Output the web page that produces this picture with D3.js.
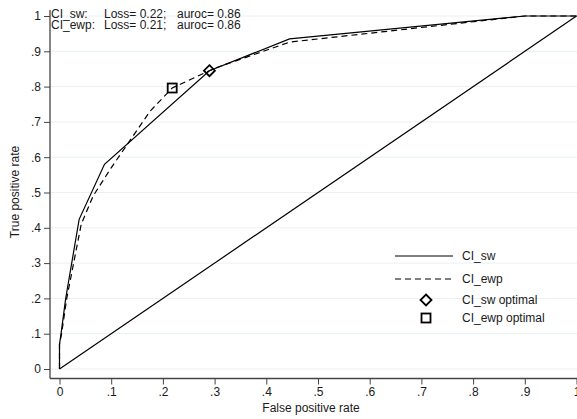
<!DOCTYPE html>
<html>
<head>
<meta charset="utf-8">
<script src="https://cdn.jsdelivr.net/npm/d3@7"></script>
<style>
  body { margin: 0; background: #fff; }
  text { font-family: "Liberation Sans", Arial, sans-serif; }
</style>
</head>
<body>
<div id="chart"></div>
<script>
// ROC points
const swFpr  = [0, 0, 0.003, 0.012, 0.038, 0.087, 0.29, 0.445, 0.9, 1];
const swTpr  = [0, 0.07, 0.10, 0.20, 0.424, 0.58, 0.845, 0.935, 1, 1];
const ewpFpr = [0, 0, 0.004, 0.014, 0.042, 0.065, 0.1, 0.175, 0.218, 0.3, 0.445, 0.9, 1];
const ewpTpr = [0, 0.07, 0.10, 0.20, 0.41, 0.49, 0.57, 0.73, 0.796, 0.852, 0.926, 1, 1];
const refFpr = [0, 1];
const refTpr = [0, 1];
const swOptimal  = [0.29, 0.845];
const ewpOptimal = [0.218, 0.796];
const ticks = [0, 0.1, 0.2, 0.3, 0.4, 0.5, 0.6, 0.7, 0.8, 0.9, 1];
const headerNames = ["CI_sw:", "CI_ewp:"];
const headerLoss = ["Loss= 0.22;", "Loss= 0.21;"];
const headerAuroc = ["auroc= 0.86", "auroc= 0.86"];
const legendItems = ["CI_sw", "CI_ewp", "CI_sw optimal", "CI_ewp optimal"];

const W = 577, H = 419;
const svg = d3.select("#chart").append("svg").attr("width", W).attr("height", H);

const x = d3.scaleLinear().domain([0, 1]).range([59.5, 576.5]);
const y = d3.scaleLinear().domain([0, 1]).range([369, 16]);
const axisX0 = 50, axisY0 = 378.5;
const fmt = d => d === 0 ? "0" : d === 1 ? "1" : d3.format(".1f")(d).replace(/^0/, "");

// gridlines
svg.append("g").selectAll("line").data(ticks).join("line")
    .attr("x1", axisX0).attr("x2", W)
    .attr("y1", d => y(d)).attr("y2", d => y(d))
    .attr("stroke", "#e8f0f1").attr("stroke-width", 1);

// y axis
const yAxis = svg.append("g").attr("transform", "translate(" + axisX0 + ",0)")
    .call(d3.axisLeft(y).tickValues(ticks).tickFormat(fmt).tickSize(6).tickPadding(3));
yAxis.select(".domain").attr("d", "M0," + axisY0 + "V10");
// x axis
const xAxis = svg.append("g").attr("transform", "translate(0," + axisY0 + ")")
    .call(d3.axisBottom(x).tickValues(ticks).tickFormat(fmt).tickSize(6).tickPadding(3));
xAxis.select(".domain").attr("d", "M" + axisX0 + ",0H" + W);
[yAxis, xAxis].forEach(g => {
    g.select(".domain").attr("stroke", "#444").attr("stroke-width", 1.3);
    g.selectAll(".tick line").attr("stroke", "#444");
    g.selectAll(".tick text").attr("fill", "#1a1a1a").style("font-size", "12px");
});

// axis titles
svg.append("text").attr("x", 311).attr("y", 412).attr("text-anchor", "middle")
    .style("font-size", "12px").attr("fill", "#1a1a1a").text("False positive rate");
svg.append("text").attr("transform", "translate(19,192) rotate(-90)").attr("text-anchor", "middle")
    .style("font-size", "12px").attr("fill", "#1a1a1a").text("True positive rate");

// lines
const line = d3.line().x(d => x(d[0])).y(d => y(d[1]));
const zip = (a, b) => a.map((v, i) => [v, b[i]]);
svg.append("path").datum(zip(refFpr, refTpr)).attr("d", line)
    .attr("fill", "none").attr("stroke", "#000").attr("stroke-width", 1.2);
svg.append("path").datum(zip(ewpFpr, ewpTpr)).attr("d", line)
    .attr("fill", "none").attr("stroke", "#000").attr("stroke-width", 1.2).attr("stroke-dasharray", "6,4");
svg.append("path").datum(zip(swFpr, swTpr)).attr("d", line)
    .attr("fill", "none").attr("stroke", "#000").attr("stroke-width", 1.2);

// optimal markers
const diamond = (cx, cy, r) => "M" + cx + "," + (cy - r) + "L" + (cx + r) + "," + cy + "L" + cx + "," + (cy + r) + "L" + (cx - r) + "," + cy + "Z";
svg.append("path").attr("d", diamond(x(swOptimal[0]), y(swOptimal[1]), 5.5))
    .attr("fill", "none").attr("stroke", "#000").attr("stroke-width", 1.8);
svg.append("rect").attr("x", x(ewpOptimal[0]) - 4.5).attr("y", y(ewpOptimal[1]) - 4.5)
    .attr("width", 9).attr("height", 9)
    .attr("fill", "none").attr("stroke", "#000").attr("stroke-width", 1.8);

// header text
const hdr = svg.append("g").style("font-size", "12px").attr("fill", "#1a1a1a");
headerNames.forEach((t, i) => {
    const yy = 18 + i * 10.8;
    hdr.append("text").attr("x", 51).attr("y", yy).text(t);
    hdr.append("text").attr("x", 104).attr("y", yy).text(headerLoss[i]);
    hdr.append("text").attr("x", 177).attr("y", yy).text(headerAuroc[i]);
});

// legend
const lg = svg.append("g");
const rowY = [256, 279, 300, 318];
legendItems.forEach((t, i) => {
    if (i < 2) {
        lg.append("line").attr("x1", 395).attr("x2", 453).attr("y1", rowY[i]).attr("y2", rowY[i])
            .attr("stroke", "#000").attr("stroke-width", 1.2)
            .attr("stroke-dasharray", i === 1 ? "6,4" : null);
    } else if (i === 2) {
        lg.append("path").attr("d", diamond(426, rowY[i], 5.5))
            .attr("fill", "none").attr("stroke", "#000").attr("stroke-width", 1.8);
    } else {
        lg.append("rect").attr("x", 421.5).attr("y", rowY[i] - 4.5).attr("width", 9).attr("height", 9)
            .attr("fill", "none").attr("stroke", "#000").attr("stroke-width", 1.8);
    }
    lg.append("text").attr("x", 462).attr("y", rowY[i] + 4)
        .style("font-size", "12px").attr("fill", "#1a1a1a").text(t);
});
</script>
</body>
</html>
